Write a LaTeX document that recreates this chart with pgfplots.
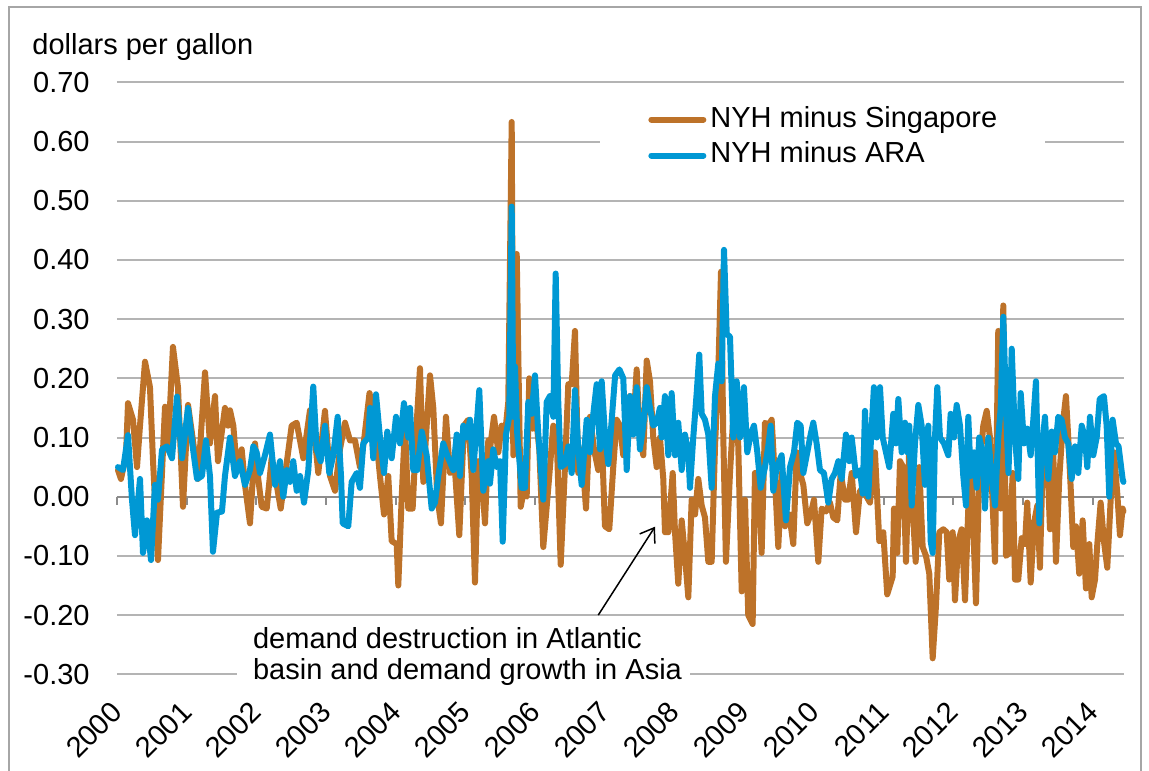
\documentclass[border=0pt]{standalone}
\usepackage{fontspec}
\setmainfont{Liberation Sans}
\usepackage{pgfplots}
\pgfplotsset{compat=1.18}
\usepackage{pgfplotstable}
\usetikzlibrary{arrows.meta}
\definecolor{sgorange}{RGB}{189,114,41}
\definecolor{arablue}{RGB}{0,152,212}
\definecolor{gridgray}{RGB}{180,180,180}
\definecolor{axisgray}{RGB}{140,140,140}
\definecolor{framegray}{RGB}{166,166,166}
\newcommand\chartfont{\fontsize{14.5bp}{16bp}\selectfont}

\pgfplotstableread{
x y
2000.014 0.045
2000.057 0.03
2000.129 0.07
2000.158 0.158
2000.230 0.13
2000.287 0.05
2000.330 0.12
2000.402 0.228
2000.473 0.185
2000.517 0.06
2000.588 -0.107
2000.689 0.152
2000.732 0.085
2000.803 0.253
2000.875 0.185
2000.947 -0.017
2001.019 0.155
2001.090 0.095
2001.162 0.03
2001.263 0.21
2001.334 0.09
2001.406 0.17
2001.449 0.06
2001.549 0.15
2001.593 0.12
2001.621 0.146
2001.669 0.12
2001.717 0.05
2001.789 0.08
2001.836 0.02
2001.908 -0.045
2001.980 0.09
2002.027 0.03
2002.076 -0.017
2002.148 -0.02
2002.219 0.065
2002.291 0.02
2002.349 -0.02
2002.410 0.035
2002.506 0.12
2002.578 0.125
2002.626 0.095
2002.673 0.065
2002.769 0.146
2002.841 0.095
2002.888 0.04
2002.984 0.145
2003.056 0.035
2003.128 0.01
2003.199 0.08
2003.271 0.125
2003.343 0.095
2003.415 0.095
2003.486 0.05
2003.544 0.095
2003.623 0.175
2003.702 0.12
2003.773 0.035
2003.831 -0.03
2003.892 0.035
2003.941 -0.075
2004.013 -0.08
2004.036 -0.15
2004.085 0.0
2004.132 0.12
2004.179 -0.02
2004.242 -0.02
2004.300 0.125
2004.347 0.217
2004.395 0.025
2004.443 0.12
2004.491 0.205
2004.538 0.15
2004.595 0.0
2004.648 -0.045
2004.720 0.135
2004.778 0.04
2004.849 0.045
2004.911 -0.065
2004.978 0.12
2005.040 0.13
2005.089 0.035
2005.136 -0.145
2005.184 0.06
2005.232 0.035
2005.280 -0.045
2005.327 0.095
2005.351 0.08
2005.409 0.135
2005.471 0.075
2005.519 0.12
2005.567 0.105
2005.614 0.16
2005.663 0.633
2005.686 0.07
2005.735 0.41
2005.792 -0.017
2005.829 0.005
2005.878 0.0
2005.915 0.2
2005.964 0.115
2006.011 0.135
2006.059 0.08
2006.116 -0.085
2006.188 0.015
2006.260 0.12
2006.309 0.1
2006.366 -0.115
2006.427 0.05
2006.475 0.19
2006.524 0.19
2006.571 0.28
2006.618 0.04
2006.667 0.08
2006.729 -0.02
2006.786 0.135
2006.844 0.08
2006.905 0.045
2006.954 0.105
2007.001 -0.05
2007.063 -0.055
2007.120 0.05
2007.169 0.13
2007.217 0.12
2007.264 0.07
2007.313 0.155
2007.360 0.17
2007.408 0.12
2007.456 0.215
2007.503 0.1
2007.551 0.07
2007.600 0.23
2007.647 0.195
2007.694 0.1
2007.743 0.05
2007.790 0.1
2007.838 0.03
2007.862 -0.06
2007.910 -0.06
2007.973 0.04
2008.006 -0.06
2008.053 -0.147
2008.102 -0.04
2008.149 -0.1
2008.197 -0.17
2008.245 -0.005
2008.293 -0.03
2008.340 0.03
2008.389 -0.015
2008.436 -0.035
2008.484 -0.11
2008.532 -0.11
2008.580 0.085
2008.627 0.21
2008.666 0.38
2008.699 0.1
2008.737 -0.11
2008.795 0.04
2008.866 0.185
2008.914 0.085
2008.963 -0.16
2009.010 -0.005
2009.057 -0.2
2009.120 -0.215
2009.153 0.04
2009.201 0.03
2009.249 -0.095
2009.297 0.125
2009.344 0.12
2009.393 0.13
2009.440 0.03
2009.488 -0.085
2009.536 0.04
2009.584 -0.05
2009.646 -0.03
2009.703 -0.08
2009.752 0.075
2009.799 0.04
2009.847 0.02
2009.904 -0.045
2009.952 -0.03
2010.000 -0.005
2010.062 -0.11
2010.110 -0.02
2010.172 -0.025
2010.229 -0.01
2010.277 -0.035
2010.334 -0.04
2010.383 0.04
2010.445 -0.005
2010.492 -0.005
2010.541 0.04
2010.603 -0.06
2010.660 0.01
2010.732 0.005
2010.803 -0.01
2010.875 0.075
2010.937 -0.075
2010.994 -0.06
2011.051 -0.165
2011.129 -0.135
2011.148 -0.02
2011.195 -0.095
2011.234 0.06
2011.281 0.05
2011.320 -0.11
2011.367 0.085
2011.416 -0.02
2011.459 -0.11
2011.511 0.05
2011.559 -0.085
2011.607 -0.1
2011.654 -0.13
2011.703 -0.273
2011.750 -0.185
2011.798 -0.06
2011.855 -0.055
2011.904 -0.06
2011.941 -0.14
2011.990 -0.06
2012.023 -0.175
2012.070 -0.075
2012.119 -0.055
2012.167 -0.175
2012.214 -0.02
2012.262 0.03
2012.324 -0.18
2012.371 0.04
2012.429 0.12
2012.478 0.145
2012.525 0.1
2012.597 -0.11
2012.644 0.28
2012.679 -0.02
2012.716 0.323
2012.755 -0.1
2012.802 -0.095
2012.851 0.04
2012.884 -0.14
2012.931 -0.14
2012.980 -0.07
2013.027 -0.08
2013.060 -0.01
2013.109 -0.145
2013.156 -0.045
2013.204 -0.015
2013.242 -0.12
2013.290 0.1
2013.339 0.09
2013.386 -0.055
2013.433 0.075
2013.472 -0.11
2013.519 0.03
2013.568 0.12
2013.615 0.17
2013.648 0.1
2013.683 0.015
2013.720 -0.085
2013.759 -0.05
2013.806 -0.13
2013.855 -0.04
2013.902 -0.155
2013.950 -0.08
2013.984 -0.17
2014.032 -0.14
2014.065 -0.08
2014.113 -0.01
2014.160 -0.075
2014.208 -0.12
2014.257 -0.005
2014.304 0.075
2014.352 0.005
2014.390 -0.065
2014.428 -0.02
2014.440 -0.025
}\singapore

\pgfplotstableread{
x y
2000.014 0.05
2000.086 0.045
2000.158 0.104
2000.215 -0.005
2000.258 -0.065
2000.330 0.03
2000.373 -0.095
2000.430 -0.04
2000.488 -0.107
2000.545 0.02
2000.588 -0.005
2000.646 0.08
2000.717 0.085
2000.789 0.065
2000.861 0.169
2000.933 0.065
2001.019 0.15
2001.080 0.09
2001.148 0.03
2001.219 0.035
2001.277 0.095
2001.334 0.035
2001.377 -0.093
2001.435 -0.027
2001.506 -0.025
2001.549 0.035
2001.621 0.10
2001.693 0.035
2001.765 0.06
2001.836 0.02
2001.908 0.045
2001.956 0.085
2002.004 0.075
2002.052 0.04
2002.123 0.07
2002.195 0.105
2002.267 0.02
2002.339 0.06
2002.386 0.0
2002.435 0.045
2002.482 0.025
2002.529 0.06
2002.578 0.01
2002.626 0.035
2002.683 -0.01
2002.745 0.045
2002.816 0.186
2002.865 0.08
2002.922 0.06
2002.984 0.12
2003.046 0.04
2003.103 0.07
2003.166 0.135
2003.214 0.035
2003.238 -0.045
2003.318 -0.05
2003.367 0.025
2003.439 0.04
2003.486 0.015
2003.534 0.09
2003.605 0.1
2003.630 0.15
2003.677 0.065
2003.716 0.173
2003.773 0.1
2003.831 0.04
2003.878 0.11
2003.941 0.065
2004.003 0.135
2004.060 0.09
2004.117 0.158
2004.179 0.1
2004.204 0.15
2004.251 0.045
2004.308 0.045
2004.372 0.11
2004.443 0.07
2004.515 -0.02
2004.562 -0.01
2004.610 0.035
2004.681 0.09
2004.753 0.065
2004.825 0.045
2004.874 0.105
2004.921 0.035
2004.968 0.12
2005.017 0.1
2005.065 0.13
2005.112 0.045
2005.198 0.18
2005.255 0.01
2005.327 0.06
2005.351 0.022
2005.399 0.08
2005.448 0.05
2005.495 0.06
2005.534 -0.076
2005.581 0.105
2005.628 0.135
2005.663 0.49
2005.686 0.135
2005.710 0.22
2005.743 0.105
2005.806 0.015
2005.854 0.015
2005.901 0.16
2005.950 0.14
2005.997 0.205
2006.045 0.105
2006.116 -0.005
2006.165 0.16
2006.212 0.17
2006.260 0.135
2006.294 0.377
2006.331 0.16
2006.366 0.05
2006.427 0.055
2006.475 0.085
2006.524 0.04
2006.571 0.18
2006.618 0.08
2006.667 0.02
2006.739 0.13
2006.786 0.075
2006.834 0.14
2006.882 0.19
2006.930 0.08
2006.954 0.195
2007.001 0.105
2007.049 0.055
2007.098 0.13
2007.147 0.205
2007.208 0.215
2007.264 0.2
2007.313 0.045
2007.360 0.17
2007.408 0.105
2007.456 0.185
2007.503 0.08
2007.551 0.12
2007.600 0.185
2007.647 0.15
2007.694 0.12
2007.743 0.125
2007.790 0.15
2007.815 0.1
2007.862 0.17
2007.910 0.07
2007.958 0.175
2008.006 0.07
2008.053 0.125
2008.102 0.045
2008.149 0.105
2008.197 0.075
2008.221 0.015
2008.268 0.1
2008.317 0.175
2008.354 0.24
2008.389 0.14
2008.436 0.13
2008.484 0.105
2008.532 0.015
2008.580 0.17
2008.627 0.225
2008.676 0.195
2008.709 0.417
2008.748 0.275
2008.795 0.27
2008.842 0.1
2008.891 0.195
2008.938 0.1
2008.995 0.185
2009.043 0.075
2009.092 0.105
2009.139 0.12
2009.187 0.075
2009.235 0.015
2009.297 0.05
2009.344 0.085
2009.379 0.12
2009.416 0.01
2009.465 0.05
2009.536 0.07
2009.598 -0.04
2009.656 0.05
2009.713 0.075
2009.760 0.125
2009.809 0.12
2009.847 0.04
2009.904 0.075
2009.952 0.105
2009.990 0.125
2010.038 0.09
2010.086 0.045
2010.143 0.04
2010.205 -0.01
2010.254 0.03
2010.301 0.04
2010.349 0.06
2010.397 0.03
2010.459 0.105
2010.506 0.06
2010.541 0.1
2010.603 0.035
2010.660 0.045
2010.699 0.005
2010.732 0.145
2010.779 0.0
2010.813 0.085
2010.860 0.185
2010.899 0.1
2010.947 0.185
2010.986 0.1
2011.033 0.075
2011.080 0.05
2011.138 0.14
2011.176 0.09
2011.210 0.165
2011.258 0.075
2011.306 0.125
2011.339 0.075
2011.367 0.12
2011.402 -0.015
2011.449 0.09
2011.497 0.155
2011.545 0.12
2011.592 0.02
2011.640 0.12
2011.674 -0.075
2011.703 -0.095
2011.736 0.1
2011.769 0.185
2011.808 0.1
2011.865 0.09
2011.927 0.07
2011.961 0.14
2012.008 0.1
2012.047 0.155
2012.095 0.12
2012.142 0.035
2012.181 -0.015
2012.214 0.135
2012.248 0.035
2012.296 0.075
2012.334 0.015
2012.371 0.1
2012.420 0.075
2012.453 -0.02
2012.501 0.1
2012.549 0.035
2012.597 -0.015
2012.644 0.1
2012.679 0.15
2012.716 0.304
2012.764 0.12
2012.791 0.04
2012.837 0.25
2012.884 0.1
2012.931 0.03
2012.966 0.175
2013.013 0.09
2013.060 0.115
2013.109 0.07
2013.147 0.13
2013.185 0.195
2013.233 -0.045
2013.267 0.075
2013.314 0.135
2013.362 0.03
2013.410 0.11
2013.457 0.075
2013.505 0.135
2013.553 0.13
2013.601 0.1
2013.648 0.09
2013.697 0.03
2013.745 0.085
2013.792 0.04
2013.841 0.12
2013.888 0.1
2013.921 0.05
2013.960 0.135
2014.007 0.07
2014.056 0.1
2014.099 0.165
2014.160 0.17
2014.199 0.12
2014.237 0.0
2014.285 0.13
2014.333 0.09
2014.370 0.085
2014.428 0.03
2014.440 0.025
}\ara

\begin{document}
\begin{tikzpicture}[font=\chartfont]
\useasboundingbox (-58.5bp,-48.35bp) rectangle (516bp,337.15bp);
\draw[framegray, line width=1bp] (-54bp,-60bp) -- (-54bp,333.65bp) -- (512bp,333.65bp) -- (512bp,-60bp);
\begin{axis}[
  at={(0,0)}, anchor=south west,
  scale only axis, width=503.5bp, height=296bp,
  xmin=2000, xmax=2014.448, ymin=-0.3, ymax=0.7,
  clip=false,
  axis line style={draw=none},
  major tick length=0pt,
  xtick={2000,2001,2002,2003,2004,2005,2006,2007,2008,2009,2010,2011,2012,2013,2014},
  xticklabels={2000,2001,2002,2003,2004,2005,2006,2007,2008,2009,2010,2011,2012,2013,2014},
  ytick={-0.3,-0.2,-0.1,0,0.1,0.2,0.3,0.4,0.5,0.6,0.7},
  yticklabels={-0.30,-0.20,-0.10,0.00,0.10,0.20,0.30,0.40,0.50,0.60,0.70},
  ymajorgrids, grid style={gridgray, line width=1bp},
  tick label style={font=\chartfont},
  yticklabel style={anchor=east, inner sep=0pt, xshift=-13.5bp},
  xticklabel style={rotate=45, anchor=east, inner sep=0pt},
  xticklabel shift=16.35bp,
  legend cell align=left,
  legend style={at={(0.4796,0.9770)}, anchor=north west, draw=none, fill=white,
    inner xsep=24bp, inner ysep=5bp, font=\chartfont, row sep=4.5bp,
    nodes={inner sep=0pt, text height=10.4bp, text depth=3bp},
    /tikz/every odd column/.append style={column sep=2bp}},
  legend image code/.code={\draw[#1] (0bp,0bp) -- (26bp,0bp);},
]
\draw[axisgray, line width=1bp] (axis cs:2000,0) -- (axis cs:2014.448,0);
\pgfplotsinvokeforeach{2000,2001,2002,2003,2004,2005,2006,2007,2008,2009,2010,2011,2012,2013,2014}{
  \draw[axisgray, line width=1bp] (axis cs:#1,0) -- ++(0pt,-4bp);
}
\addplot[sgorange, line width=3bp, line join=round, line cap=round] table[x=x,y=y] {\singapore};
\addlegendentry{NYH minus Singapore}
\addplot[arablue, line width=3bp, line join=round, line cap=round] table[x=x,y=y] {\ara};
\addlegendentry{NYH minus ARA}
\fill[white] (axis cs:2001.722,-0.2083) rectangle (axis cs:2008.221,-0.3299);
\node[anchor=base west, inner sep=0pt] at (axis cs:2001.947,-0.2561) {demand destruction in Atlantic};
\node[anchor=base west, inner sep=0pt] at (axis cs:2001.947,-0.3096) {basin and demand growth in Asia};
\draw[-{Straight Barb[length=6.5bp,width=9bp]}, line width=0.75bp] (axis cs:2006.905,-0.2) -- (axis cs:2007.719,-0.0507);
\end{axis}
\node[anchor=base west, inner sep=0pt] at (-42.5bp,309.65bp) {dollars per gallon};
\end{tikzpicture}
\end{document}
